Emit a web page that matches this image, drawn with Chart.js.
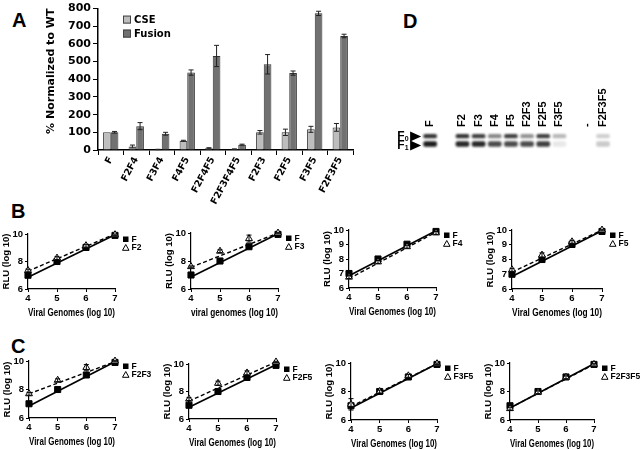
<!DOCTYPE html>
<html>
<head>
<meta charset="utf-8">
<script src="https://cdn.jsdelivr.net/npm/chart.js@4.4.0/dist/chart.umd.min.js"></script>
<style>
body { margin:0; background:#fff; width:640px; height:450px; position:relative; overflow:hidden; }
canvas { position:absolute; }
.letter { position:absolute; font:bold 20px "Liberation Sans", Arial, sans-serif; color:#000; line-height:24px; }
</style>
</head>
<body>
<div class="letter" style="left:12px;top:8px">A</div>
<div class="letter" style="left:403px;top:9px">D</div>
<div class="letter" style="left:11px;top:199px">B</div>
<div class="letter" style="left:11px;top:334px">C</div>
<canvas id="cA" width="362" height="205" style="left:0;top:0"></canvas>
<canvas id="cD" width="260" height="95" style="left:380px;top:75px"></canvas>
<script>
// ── Panel A: CSE / fusion ────────────────────────
const mutantsA = ['F', 'F2F4', 'F3F4', 'F4F5', 'F2F4F5', 'F2F3F4F5', 'F2F3', 'F2F5', 'F3F5', 'F2F3F5'];
const cseVals  = [100, 20, 3, 52, 10, 5, 100, 100, 117, 128];
const cseErr   = [0, 8, 1, 3, 3, 1, 10, 18, 17, 22];
const fusVals  = [100, 135, 92, 438, 532, 30, 485, 435, 773, 645];
const fusErr   = [5, 20, 8, 15, 60, 3, 55, 12, 12, 10];
const yMaxA    = 800;

// ── Panel B/C: RLU vs viral genomes ──────────────
const genomes = [4, 5, 6, 7];
const fitX    = [4, 7];
const rluF    = [7.0, 8.0, 9.02, 9.9];
const fitF    = [6.85, 9.95];

const rluF2 = [7.35, 8.25, 9.15, 9.95];  const errF2 = [0.1, 0.1, 0.1, 0.05];  const fitF2 = [7.3, 10.0];
const rluF3 = [7.6, 8.7, 9.6, 10.0];     const errF3 = [0.05, 0.1, 0.25, 0.05]; const fitF3 = [7.55, 10.0];
const rluF4 = [6.75, 7.8, 8.85, 9.8];    const errF4 = [0.1, 0.1, 0.1, 0.1];   const fitF4 = [6.65, 9.85];
const rluF5 = [7.3, 8.3, 9.2, 10.0];     const errF5 = [0.1, 0.15, 0.1, 0.05]; const fitF5 = [7.15, 10.0];
const rluF2F3   = [7.7, 8.65, 9.55, 10.0];  const errF2F3   = [0.1, 0.1, 0.2, 0.05];  const fitF2F3   = [7.7, 9.95];
const rluF2F5   = [7.45, 8.6, 9.35, 10.15]; const errF2F5   = [0.1, 0.15, 0.15, 0.05]; const fitF2F5   = [7.3, 10.15];
const rluF3F5   = [7.1, 8.0, 9.1, 9.95];    const errF3F5   = [0.4, 0.1, 0.1, 0.05];   const fitF3F5   = [6.95, 9.95];
const rluF2F3F5 = [6.8, 7.95, 9.0, 9.9];    const errF2F3F5 = [0.1, 0.1, 0.1, 0.05];   const fitF2F3F5 = [6.85, 9.9];

// ── Panel D: western blot ────────────────────────
const laneNames = ['F', 'F2', 'F3', 'F4', 'F5', 'F2F3', 'F2F5', 'F3F5', '-', 'F2F3F5'];
const lanePos   = [0, 2, 3, 4, 5, 6, 7, 8, 9.7, 10.7];
const bandF0    = [0.85, 0.85, 0.8, 0.5, 0.8, 0.45, 0.8, 0.3, 0, 0.2];
const bandF1    = [0.95, 0.9, 0.9, 0.75, 0.75, 0.75, 0.8, 0.1, 0, 0.22];

const ARIAL  = '"Liberation Sans", Arial, sans-serif';
const DEJAVU = '"DejaVu Sans", Verdana, sans-serif';
Chart.defaults.color = '#000';
Chart.defaults.animation = false;

// error bars for panel A
const errBarsA = {
    id: 'errBarsA',
    afterDatasetsDraw(chart) {
        const ctx = chart.ctx, y = chart.scales.y;
        [[cseVals, cseErr], [fusVals, fusErr]].forEach(([vals, errs], di) => {
            chart.getDatasetMeta(di).data.forEach((bar, i) => {
                if (!errs[i]) return;
                const top = y.getPixelForValue(vals[i] + errs[i]);
                const bot = y.getPixelForValue(Math.max(vals[i] - errs[i], 0));
                ctx.save();
                ctx.strokeStyle = '#222';
                ctx.lineWidth = 1;
                ctx.beginPath();
                ctx.moveTo(bar.x, top); ctx.lineTo(bar.x, bot);
                ctx.moveTo(bar.x - 2.5, top); ctx.lineTo(bar.x + 2.5, top);
                ctx.moveTo(bar.x - 2.5, bot); ctx.lineTo(bar.x + 2.5, bot);
                ctx.stroke();
                ctx.restore();
            });
        });
    }
};

const legendA = {
    id: 'legendA',
    afterDraw(chart) {
        const ctx = chart.ctx, a = chart.chartArea;
        chart.data.datasets.forEach((ds, i) => {
            const x = a.left + 25, y = a.top + 7 + i * 14;
            ctx.fillStyle = ds.backgroundColor;
            ctx.fillRect(x, y, 8, 8);
            ctx.strokeStyle = '#444';
            ctx.lineWidth = 1;
            ctx.strokeRect(x + 0.5, y + 0.5, 7, 7);
            ctx.fillStyle = '#000';
            ctx.font = 'bold 10px ' + DEJAVU;
            ctx.textBaseline = 'middle';
            ctx.fillText(ds.label, x + 11, y + 4.5);
        });
    }
};

new Chart(document.getElementById('cA'), {
    type: 'bar',
    data: {
        labels: mutantsA,
        datasets: [
            { label: 'CSE', data: cseVals, backgroundColor: '#bdbdbd', borderColor: '#333', borderWidth: 1,
              categoryPercentage: 0.6, barPercentage: 1 },
            { label: 'Fusion', data: fusVals, backgroundColor: '#717171', borderColor: '#333', borderWidth: 1,
              categoryPercentage: 0.6, barPercentage: 1 }
        ]
    },
    options: {
        responsive: false,
        layout: { padding: { top: 8, right: 9 } },
        plugins: { legend: { display: false }, tooltip: { enabled: false } },
        scales: {
            x: {
                grid: { drawOnChartArea: false, color: '#000', tickLength: 5 },
                border: { color: '#000', width: 1.5 },
                ticks: { font: { family: DEJAVU, weight: 'bold', size: 9.5 }, minRotation: 62, maxRotation: 62, padding: 0, autoSkip: false },
                afterFit: s => { s.height = 55; }
            },
            y: {
                min: 0, max: yMaxA,
                grid: { drawOnChartArea: false, color: '#000', tickLength: 5 },
                border: { color: '#000', width: 1.5 },
                ticks: { stepSize: 100, padding: 2, font: { family: DEJAVU, weight: 'bold', size: 11 } },
                title: { display: true, text: '% Normalized to WT', align: 'end', padding: { top: 45, bottom: 0 },
                         font: { family: DEJAVU, weight: 'bold', size: 11 } },
                afterFit: s => { s.width = 98; }
            }
        }
    },
    plugins: [errBarsA, legendA]
});

// ── small RLU charts ─────────────────────────────
function smallChart(p) {
    const W = 28, H = 33, T = 8, R = 62;
    const cv = document.createElement('canvas');
    cv.width = W + (p.right - p.left) + R;
    cv.height = T + (p.bottom - p.top) + H;
    cv.style.left = (p.left - W) + 'px';
    cv.style.top = (p.top - T) + 'px';
    document.body.appendChild(cv);

    const pts = ys => genomes.map((g, i) => ({ x: g, y: ys[i] }));
    const errBars = {
        id: 'errBars',
        afterDatasetsDraw(chart) {
            const ctx = chart.ctx, y = chart.scales.y;
            chart.getDatasetMeta(1).data.forEach((pt, i) => {
                const top = y.getPixelForValue(p.vals[i] + p.err[i]);
                const bot = y.getPixelForValue(p.vals[i] - p.err[i]);
                ctx.save();
                ctx.strokeStyle = '#000';
                ctx.lineWidth = 1;
                ctx.beginPath();
                ctx.moveTo(pt.x, top); ctx.lineTo(pt.x, bot);
                ctx.moveTo(pt.x - 2.5, top); ctx.lineTo(pt.x + 2.5, top);
                ctx.moveTo(pt.x - 2.5, bot); ctx.lineTo(pt.x + 2.5, bot);
                ctx.stroke();
                ctx.restore();
            });
        }
    };
    const legend = {
        id: 'legendSmall',
        afterDraw(chart) {
            const ctx = chart.ctx, a = chart.chartArea;
            const x = a.right + 8;
            ctx.save();
            ctx.fillStyle = '#000';
            ctx.fillRect(x, a.top + 2.5, 5.5, 5.5);
            ctx.strokeStyle = '#000';
            ctx.lineWidth = 1;
            ctx.beginPath();
            ctx.moveTo(x + 2.75, a.top + 10.5); ctx.lineTo(x + 6, a.top + 16.3); ctx.lineTo(x - 0.5, a.top + 16.3); ctx.closePath();
            ctx.stroke();
            ctx.font = 'bold 8.5px ' + ARIAL;
            ctx.textBaseline = 'middle';
            ctx.fillText('F', x + 8.5, a.top + 5.5);
            ctx.fillText(p.name, x + 8.5, a.top + 14);
            ctx.restore();
        }
    };

    new Chart(cv, {
        type: 'scatter',
        data: {
            datasets: [
                { label: 'F', data: pts(rluF), pointStyle: 'rect', pointRadius: 4.3, backgroundColor: '#000', borderColor: '#000', clip: false, order: 1 },
                { label: p.name, data: pts(p.vals), pointStyle: 'triangle', pointRadius: 4, backgroundColor: '#fff', borderColor: '#000', borderWidth: 1, clip: false, order: 0 },
                { type: 'line', data: fitX.map((x, i) => ({ x, y: fitF[i] })), borderColor: '#000', borderWidth: 1.7, pointRadius: 0, clip: false, order: 2 },
                { type: 'line', data: fitX.map((x, i) => ({ x, y: p.fit[i] })), borderColor: '#000', borderWidth: 1.4, borderDash: [4, 2.5], pointRadius: 0, clip: false, order: 2 }
            ]
        },
        options: {
            responsive: false,
            layout: { padding: { top: T, right: R } },
            plugins: { legend: { display: false }, tooltip: { enabled: false } },
            scales: {
                x: {
                    min: 4, max: 7,
                    grid: { drawOnChartArea: false, color: '#000', tickLength: 3 },
                    border: { color: '#000', width: 1.2 },
                    ticks: { stepSize: 1, padding: 1, font: { family: ARIAL, weight: 'bold', size: 9.5 } },
                    title: { display: true, text: p.xTitle, padding: { top: 0, bottom: 2 }, font: { family: ARIAL, weight: 'bold', size: 10.8 } },
                    afterFit: s => { s.height = H; }
                },
                y: {
                    min: 6, max: 10,
                    grid: { drawOnChartArea: false, color: '#000', tickLength: 3 },
                    border: { color: '#000', width: 1.2 },
                    ticks: { stepSize: 1, padding: 2, font: { family: ARIAL, weight: 'bold', size: 9.5 } },
                    title: { display: true, text: 'RLU (log 10)', padding: { top: 1, bottom: 0 }, font: { family: ARIAL, weight: 'bold', size: 9.5 } },
                    afterFit: s => { s.width = W; }
                }
            }
        },
        plugins: [errBars, legend]
    });
}

const VG = 'Viral Genomes (log 10)';
[
    { name: 'F2',     vals: rluF2,     err: errF2,     fit: fitF2,     xTitle: VG, left: 28,  right: 115, top: 234, bottom: 289 },
    { name: 'F3',     vals: rluF3,     err: errF3,     fit: fitF3,     xTitle: 'viral genomes (log 10)', left: 191, right: 278, top: 233, bottom: 289 },
    { name: 'F4',     vals: rluF4,     err: errF4,     fit: fitF4,     xTitle: VG, left: 349, right: 436, top: 230, bottom: 288 },
    { name: 'F5',     vals: rluF5,     err: errF5,     fit: fitF5,     xTitle: VG, left: 512, right: 602, top: 230, bottom: 289 },
    { name: 'F2F3',   vals: rluF2F3,   err: errF2F3,   fit: fitF2F3,   xTitle: VG, left: 29,  right: 115, top: 361, bottom: 418 },
    { name: 'F2F5',   vals: rluF2F5,   err: errF2F5,   fit: fitF2F5,   xTitle: VG, left: 189, right: 276, top: 364, bottom: 419 },
    { name: 'F3F5',   vals: rluF3F5,   err: errF3F5,   fit: fitF3F5,   xTitle: VG, left: 351, right: 437, top: 363, bottom: 420 },
    { name: 'F2F3F5', vals: rluF2F3F5, err: errF2F3F5, fit: fitF2F3F5, xTitle: VG, left: 510, right: 594, top: 363, bottom: 420 }
].forEach(smallChart);

// ── Panel D: blot bands as floating bars ─────────
const blur = {
    id: 'blur',
    beforeDatasetsDraw(chart) { chart.ctx.save(); chart.ctx.filter = 'blur(0.8px)'; },
    afterDatasetsDraw(chart) { chart.ctx.restore(); }
};
const blotText = {
    id: 'blotText',
    afterDraw(chart) {
        const ctx = chart.ctx, x = chart.scales.x, y = chart.scales.y;
        const top = chart.chartArea.top;
        ctx.save();
        ctx.fillStyle = '#000';
        ctx.font = 'bold 11px ' + ARIAL;
        ctx.textAlign = 'left';
        ctx.textBaseline = 'middle';
        laneNames.forEach((name, i) => {
            ctx.save();
            ctx.translate(x.getPixelForValue(lanePos[i]), top - 1);
            ctx.rotate(-Math.PI / 2);
            ctx.fillText(name, 0, 0);
            ctx.restore();
        });
        const x0 = x.getPixelForValue(lanePos[0]);
        [[1, '0', 0.5], [0, '1', 1.5]].forEach(([v, sub, dy]) => {
            const yy = y.getPixelForValue(v) + dy;
            ctx.beginPath();
            ctx.moveTo(x0 - 9, yy); ctx.lineTo(x0 - 20, yy - 5); ctx.lineTo(x0 - 20, yy + 5); ctx.closePath();
            ctx.fill();
            ctx.font = 'bold 12px ' + ARIAL;
            ctx.fillText('F', x0 - 33, yy);
            ctx.font = 'bold 7px ' + ARIAL;
            ctx.fillText(sub, x0 - 25.5, yy + 3);
        });
        ctx.restore();
    }
};
const shade = v => `rgba(15,15,15,${v})`;
new Chart(document.getElementById('cD'), {
    type: 'bar',
    data: {
        datasets: [
            { data: lanePos.map(p => ({ x: p, y: [0.75, 1.22] })), backgroundColor: bandF0.map(shade), grouped: false, barThickness: 13, borderSkipped: false, borderRadius: 2 },
            { data: lanePos.map(p => ({ x: p, y: [-0.3, 0.3] })), backgroundColor: bandF1.map(shade), grouped: false, barThickness: 13, borderSkipped: false, borderRadius: 2 }
        ]
    },
    options: {
        responsive: false,
        layout: { padding: { left: 34, right: 16, top: 53, bottom: 18 } },
        plugins: { legend: { display: false }, tooltip: { enabled: false } },
        scales: {
            x: { type: 'linear', display: false, offset: false, min: -1, max: 12 },
            y: { display: false, min: -1, max: 2 }
        }
    },
    plugins: [blur, blotText]
});
</script>
</body>
</html>
